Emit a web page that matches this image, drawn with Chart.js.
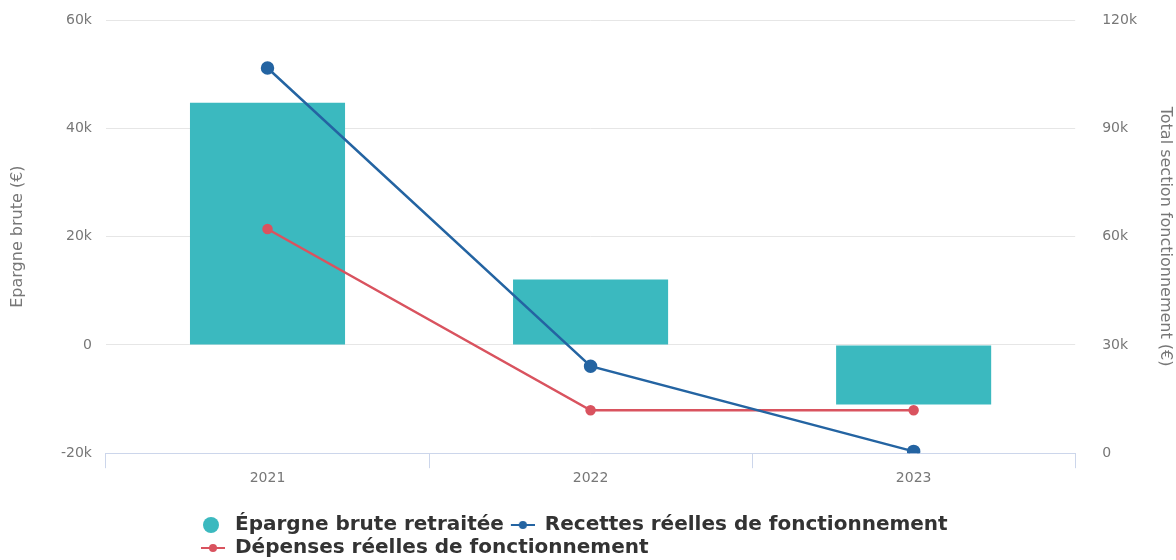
<!DOCTYPE html>
<html lang="fr">
<head>
<meta charset="utf-8">
<script src="https://cdn.jsdelivr.net/npm/chart.js@4"></script>
<style>
  html, body { margin: 0; padding: 0; background: #fff; }
  #wrap { width: 1176px; height: 560px; position: relative; }
</style>
</head>
<body>
<div id="wrap"><canvas id="chart"></canvas></div>
<script>
// Data
const years = ['2021', '2022', '2023'];
const epargneBrute = [44700, 12100, -11000];
const recettes = [106700, 24100, 500];
const depenses = [62100, 11900, 11900];
const leftTicks = [-20000, 0, 20000, 40000, 60000];
const rightTicks = [0, 30000, 60000, 90000, 120000];

const TEAL = '#3bb9bf';
const BLUE = '#2464a2';
const RED = '#d9535f';
const FONT = '"DejaVu Sans", Verdana, sans-serif';

const kFormat = v => v === 0 ? '0' : (v / 1000) + 'k';

// Legend icons: a dot for the bars, a line with a dot for the lines
const ICON_W = 28;
function dotIcon(color, r) {
    const c = document.createElement('canvas');
    c.width = ICON_W; c.height = r * 2 + 2;
    const ctx = c.getContext('2d');
    ctx.fillStyle = color;
    ctx.beginPath(); ctx.arc(ICON_W / 2, r + 1, r, 0, Math.PI * 2); ctx.fill();
    return c;
}
function lineIcon(color, r) {
    const c = document.createElement('canvas');
    c.width = ICON_W; c.height = 12;
    const ctx = c.getContext('2d');
    ctx.strokeStyle = color; ctx.lineWidth = 2;
    ctx.beginPath(); ctx.moveTo(4, 6); ctx.lineTo(ICON_W, 6); ctx.stroke();
    ctx.fillStyle = color;
    ctx.beginPath(); ctx.arc(16, 6, r, 0, Math.PI * 2); ctx.fill();
    return c;
}
const legendIcons = [dotIcon(TEAL, 8), lineIcon(BLUE, 4), lineIcon(RED, 4)];

// Left-align the wrapped legend rows like the reference
const legendShift = {
    id: 'legendShift',
    afterLayout(chart) {
        chart.legend.left = 194;
        chart.legend.top += 8;
    }
};

new Chart(document.getElementById('chart'), {
    type: 'bar',
    data: {
        labels: years,
        datasets: [
            {
                type: 'bar',
                label: 'Épargne brute retraitée',
                data: epargneBrute,
                backgroundColor: TEAL,
                yAxisID: 'y',
                categoryPercentage: 0.6,
                barPercentage: 0.8,
                order: 3
            },
            {
                type: 'line',
                label: 'Recettes réelles de fonctionnement',
                data: recettes,
                borderColor: BLUE,
                backgroundColor: BLUE,
                borderWidth: 2.5,
                pointRadius: 5.5,
                pointHoverRadius: 6,
                yAxisID: 'y1',
                order: 1
            },
            {
                type: 'line',
                label: 'Dépenses réelles de fonctionnement',
                data: depenses,
                borderColor: RED,
                backgroundColor: RED,
                borderWidth: 2.5,
                pointRadius: 4,
                pointHoverRadius: 5,
                yAxisID: 'y1',
                order: 2
            }
        ]
    },
    options: {
        responsive: true,
        maintainAspectRatio: false,
        animation: false,
        layout: { padding: { top: 20, left: 0, right: 0, bottom: 0 } },
        scales: {
            x: {
                offset: true,
                grid: { offset: true, drawOnChartArea: false, drawTicks: true, tickLength: 15, color: '#ccd6eb' },
                border: { color: '#ccd6eb' },
                ticks: { color: '#777', font: { family: FONT, size: 14 }, padding: 2 },
                afterFit: scale => { scale.height += 15; }
            },
            y: {
                position: 'left',
                min: leftTicks[0],
                max: leftTicks[leftTicks.length - 1],
                afterBuildTicks: axis => { axis.ticks = leftTicks.map(v => ({ value: v })); },
                grid: { color: '#e6e6e6', drawTicks: true, tickLength: 10, tickColor: 'rgba(0,0,0,0)' },
                border: { display: false },
                ticks: { callback: kFormat, color: '#777', font: { family: FONT, size: 14 }, padding: 4 },
                title: { display: true, text: 'Epargne brute (€)', color: '#777', font: { family: FONT, size: 16 }, padding: { top: 8.4, bottom: 29.4 } }
            },
            y1: {
                position: 'right',
                min: rightTicks[0],
                max: rightTicks[rightTicks.length - 1],
                afterBuildTicks: axis => { axis.ticks = rightTicks.map(v => ({ value: v })); },
                grid: { drawOnChartArea: false, drawTicks: true, tickLength: 23, tickColor: 'rgba(0,0,0,0)' },
                border: { display: false },
                ticks: { callback: kFormat, color: '#777', font: { family: FONT, size: 14 }, padding: 4 },
                title: { display: true, text: 'Total section fonctionnement (€)', color: '#777', font: { family: FONT, size: 16 }, padding: { top: 1.4, bottom: 14.4 } }
            }
        },
        plugins: {
            tooltip: { enabled: false },
            legend: {
                position: 'bottom',
                align: 'start',
                fullSize: false,
                labels: {
                    usePointStyle: true,
                    pointStyleWidth: ICON_W,
                    padding: 3,
                    color: '#333',
                    font: { family: FONT, size: 20, weight: 'bold', lineHeight: 1 },
                    generateLabels: chart => Chart.defaults.plugins.legend.labels.generateLabels(chart)
                        .sort((a, b) => a.datasetIndex - b.datasetIndex)
                        .map(item => Object.assign(item, { pointStyle: legendIcons[item.datasetIndex] }))
                }
            }
        }
    },
    plugins: [legendShift]
});
</script>
</body>
</html>
